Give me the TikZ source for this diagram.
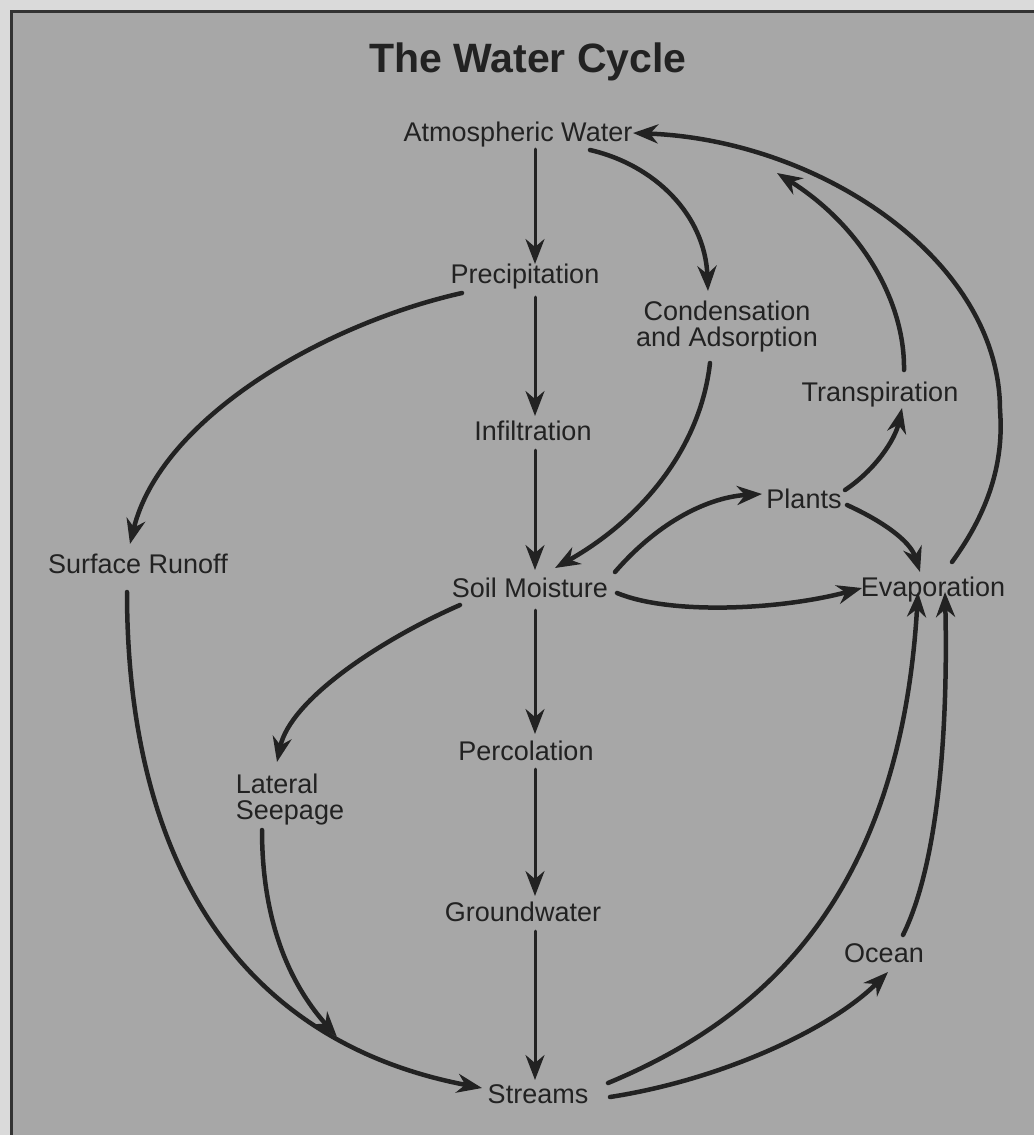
\documentclass[tikz,border=0pt]{standalone}
\usepackage{fontspec}
\setmainfont{Liberation Sans}
\usetikzlibrary{arrows.meta,calc}
\definecolor{outer}{HTML}{DADADA}
\definecolor{bg}{HTML}{A7A7A7}
\definecolor{ink}{HTML}{222222}
\definecolor{txt}{HTML}{222222}
\definecolor{framec}{HTML}{333333}
\tikzset{
  lbl/.style={font=\fontsize{27}{27}\selectfont, text=txt, inner sep=0pt, anchor=base},
  lbltwo/.style={font=\fontsize{27}{26}\selectfont, text=txt, inner sep=0pt, anchor=center},
  flow/.style={draw=ink, line width=4.5pt, line cap=round, -{Stealth[length=25pt,width=19pt,inset=8pt]}},
  vflow/.style={flow, line width=3pt},
}
\begin{document}
\begin{tikzpicture}[x=1pt,y=-1pt]
\useasboundingbox (0,0) rectangle (1034,1135);
\fill[outer] (0,0) rectangle (1034,1135);
\fill[bg] (11,11) rectangle (1034,1135);
\draw[framec, line width=3pt] (11,1135) -- (11,11) -- (1034,11);

\node[lbl, font=\bfseries\fontsize{41}{44}\selectfont] (title) at (528,72) {The Water Cycle};
\node[lbl] (atm) at (518,141) {Atmospheric Water};
\node[lbl] (prec) at (525,283) {Precipitation};
\node[lbltwo, align=center] (cond) at (727,327) {Condensation\\and Adsorption};
\node[lbl] (infl) at (533,440) {Infiltration};
\node[lbl] (runoff) at (138,573) {Surface Runoff};
\node[lbl] (soil) at (530,597) {Soil Moisture};
\node[lbl] (plants) at (804,508) {Plants};
\node[lbl] (transp) at (880,401) {Transpiration};
\node[lbl] (evap) at (933,596) {Evaporation};
\node[lbltwo, align=left] (lat) at (290,800) {Lateral\\Seepage};
\node[lbl] (perc) at (526,760) {Percolation};
\node[lbl] (ground) at (523,921) {Groundwater};
\node[lbl] (ocean) at (884,962) {Ocean};
\node[lbl] (streams) at (538,1103) {Streams};

% vertical chain
\draw[vflow] ($(atm.base)+(17,8)$) -- ($(prec.base)+(10,-19)$);
\draw[vflow] ($(prec.base)+(10,14)$) -- ($(infl.base)+(2,-24)$);
\draw[vflow] ($(infl.base)+(2,10)$) -- ($(soil.base)+(5,-27)$);
\draw[vflow] ($(soil.base)+(5,13)$) -- ($(perc.base)+(9,-26)$);
\draw[vflow] ($(perc.base)+(9,9)$) -- ($(ground.base)+(12,-25)$);
\draw[vflow] ($(ground.base)+(12,10)$) -- ($(streams.base)+(-3,-23)$);

% atmosphere -> condensation
\draw[flow] ($(atm.base)+(72,9)$) .. controls (655,165) and (705,215) .. ($(cond)+(-19,-36)$);
% evaporation -> atmosphere (big arc)
\draw[flow] ($(evap.base)+(19,-34)$) .. controls (990,510) and (1004,460) .. (1000,410)
  .. controls (1000,260) and (820,140) .. ($(atm.base)+(115,-8)$);
% transpiration -> atmosphere
\draw[flow] ($(transp.base)+(24,-31)$) .. controls (905,300) and (860,225) .. ($(atm.base)+(259,32)$);
% precipitation -> surface runoff
\draw[flow] ($(prec.base)+(-63,10)$) .. controls (320,325) and (160,420) .. ($(runoff.base)+(-8,-29)$);
% condensation -> soil moisture
\draw[flow] ($(cond)+(-17,36)$) .. controls (700,450) and (640,520) .. ($(soil.base)+(25,-29)$);
% soil -> plants
\draw[flow] ($(soil.base)+(85,-25)$) .. controls (660,520) and (710,497) .. ($(plants.base)+(-42,-14)$);
% soil -> evaporation
\draw[flow] ($(soil.base)+(87,-4)$) .. controls (670,615) and (780,610) .. ($(evap.base)+(-71,-8)$);
% plants -> transpiration
\draw[flow] ($(plants.base)+(41,-18)$) .. controls (875,470) and (895,440) .. ($(transp.base)+(22,7)$);
% plants -> evaporation
\draw[flow] ($(plants.base)+(43,-3)$) .. controls (880,520) and (910,540) .. ($(evap.base)+(-13,-24)$);
% soil -> lateral seepage
\draw[flow] ($(soil.base)+(-70,8)$) .. controls (380,640) and (290,700) .. ($(lat)+(-13,-38)$);
% surface runoff -> streams
\draw[flow] ($(runoff.base)+(-11,19)$) .. controls (127,850) and (230,1040) .. coordinate[pos=0.78] (J) ($(streams.base)+(-56,-15)$);
% lateral seepage -> runoff stream
\draw[flow] ($(lat)+(-28,30)$) .. controls (262,930) and (295,990) .. (J);
% streams -> evaporation
\draw[flow] ($(streams.base)+(70,-20)$) .. controls (760,1020) and (900,900) .. ($(evap.base)+(-15,-4)$);
% streams -> ocean
\draw[flow] ($(streams.base)+(72,-6)$) .. controls (720,1080) and (830,1030) .. ($(ocean.base)+(4,10)$);
% ocean -> evaporation
\draw[flow] ($(ocean.base)+(19,-27)$) .. controls (940,860) and (948,720) .. ($(evap.base)+(12,-4)$);
\end{tikzpicture}
\end{document}
